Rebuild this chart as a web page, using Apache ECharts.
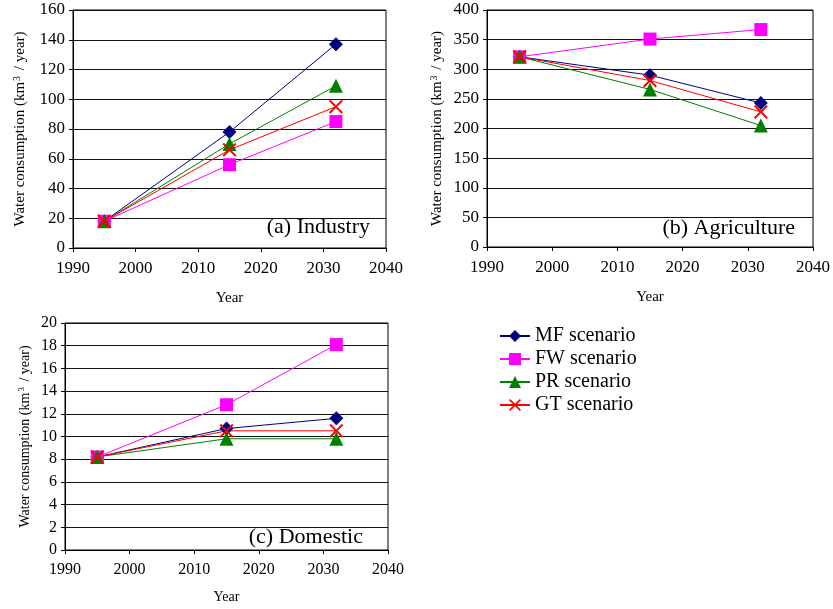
<!DOCTYPE html>
<html>
<head>
<meta charset="utf-8">
<script src="https://cdn.jsdelivr.net/npm/echarts@6/dist/echarts.min.js"></script>
<style>
  html, body { margin: 0; padding: 0; background: #fff; }
  #chart { width: 833px; height: 609px; }
</style>
</head>
<body>
<div id="chart"></div>
<script>
// 年份
const years = [1995, 2015, 2032]
const scenarios = ['MF scenario', 'FW scenario', 'PR scenario', 'GT scenario']

// (a) Industry
const industryMF = [18, 78, 137]
const industryFW = [18, 56, 85]
const industryPR = [18, 70, 109]
const industryGT = [18, 66, 95]

// (b) Agriculture
const agriMF = [321, 290, 243]
const agriFW = [321, 351, 367]
const agriPR = [321, 266, 205]
const agriGT = [321, 281, 228]

// (c) Domestic
const domMF = [8.2, 10.7, 11.6]
const domFW = [8.2, 12.8, 18.1]
const domPR = [8.2, 9.8, 9.8]
const domGT = [8.2, 10.5, 10.5]

const FONT = '"Liberation Serif", "Times New Roman", serif'
const crossPath = 'path://M0,1L1,0L5,4L9,0L10,1L6,5L10,9L9,10L5,6L1,10L0,9L4,5Z'
const styles = [
  { color: '#000080', symbol: 'diamond', symbolSize: 14 },
  { color: '#FF00FF', symbol: 'rect', symbolSize: 13 },
  { color: '#008000', symbol: 'triangle', symbolSize: 14 },
  { color: '#FF0000', symbol: crossPath, symbolSize: 14 }
]

function makeSeries(idx, dataSets) {
  return dataSets.map((vals, i) => ({
    name: scenarios[i],
    type: 'line',
    xAxisIndex: idx,
    yAxisIndex: idx,
    symbol: styles[i].symbol,
    symbolSize: styles[i].symbolSize,
    showAllSymbol: true,
    lineStyle: { color: styles[i].color, width: 1 },
    itemStyle: { color: styles[i].color, opacity: 1 },
    emphasis: { disabled: true },
    data: years.map((y, j) => [y, vals[j]])
  }))
}

function xAxis(idx, fs, gap) {
  return {
    type: 'value', gridIndex: idx, min: 1990, max: 2040, interval: 10,
    name: 'Year', nameLocation: 'middle', nameGap: gap,
    nameTextStyle: { fontFamily: FONT, fontSize: fs - 2, color: '#000' },
    axisLine: { lineStyle: { color: '#000' } },
    axisTick: { show: true, length: 4, lineStyle: { color: '#000' } },
    axisLabel: { fontFamily: FONT, fontSize: fs, color: '#000', margin: 12, formatter: v => String(v) },
    splitLine: { show: false }
  }
}

function yAxis(idx, max, interval, fs, gap) {
  return {
    type: 'value', gridIndex: idx, min: 0, max: max, interval: interval,
    name: 'Water consumption (km{sup|3} / year)',
    nameLocation: 'middle', nameRotate: 90, nameGap: gap,
    nameTextStyle: {
      fontFamily: FONT, fontSize: fs - 2, color: '#000',
      rich: { sup: { fontFamily: FONT, fontSize: fs - 7, color: '#000', verticalAlign: 'bottom', padding: [0, 2, 7, 1] } }
    },
    axisLine: { show: true, lineStyle: { color: '#000' } },
    axisTick: { show: true, length: 4, lineStyle: { color: '#000' } },
    axisLabel: { fontFamily: FONT, fontSize: fs, color: '#000', margin: 8 },
    splitLine: { show: true, lineStyle: { color: '#111', width: 1 } }
  }
}

function note(text, right, y) {
  return {
    type: 'text', right: right, top: y,
    style: { text: text, font: '22px "Liberation Serif"', fill: '#000' }
  }
}

const chart = echarts.init(document.getElementById('chart'))
chart.setOption({
  animation: false,
  backgroundColor: '#fff',
  grid: [
    { left: 73, top: 10, width: 313, height: 238, show: true, borderColor: '#000', borderWidth: 1 },
    { left: 487, top: 10, width: 328, height: 237, show: true, borderColor: '#000', borderWidth: 1 },
    { left: 65, top: 323, width: 323, height: 227, show: true, borderColor: '#000', borderWidth: 1 }
  ],
  xAxis: [xAxis(0, 17, 43), xAxis(1, 17, 43), xAxis(2, 16, 40)],
  yAxis: [yAxis(0, 160, 20, 17, 44), yAxis(1, 400, 50, 17, 41), yAxis(2, 20, 2, 16, 32)],
  legend: {
    data: scenarios,
    orient: 'vertical',
    left: 494,
    top: 321,
    itemWidth: 30,
    itemHeight: 15,
    itemGap: 3,
    selectedMode: false,
    textStyle: { fontFamily: FONT, fontSize: 20, color: '#000' }
  },
  graphic: [
    note('(a) Industry', 463, 216),
    note('(b) Agriculture', 38, 217),
    note('(c) Domestic', 470, 526)
  ],
  series: [].concat(
    makeSeries(0, [industryMF, industryFW, industryPR, industryGT]),
    makeSeries(1, [agriMF, agriFW, agriPR, agriGT]),
    makeSeries(2, [domMF, domFW, domPR, domGT])
  )
})
</script>
</body>
</html>
